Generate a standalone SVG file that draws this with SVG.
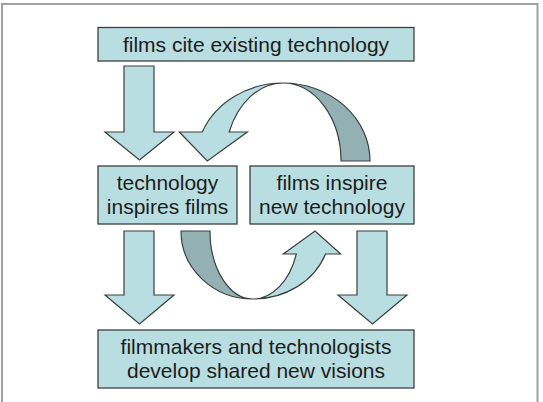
<svg xmlns="http://www.w3.org/2000/svg" width="543" height="402" viewBox="0 0 543 402">
<style>
.box{fill:#b9dee1;stroke:#3c3f3f;stroke-width:1.3}
.arr{fill:#b9dee1;stroke:#3c3f3f;stroke-width:1.2;stroke-linejoin:miter}
.back{fill:#93b1b2;stroke:#3c3f3f;stroke-width:1.2}
.t{font-family:"Liberation Sans",Arial,sans-serif;font-size:21px;fill:#1c1c1c;text-anchor:middle}
</style>
<rect x="0" y="0" width="543" height="402" fill="#ffffff"/>
<rect x="2" y="4" width="535.5" height="420" fill="none" stroke="#a0a0a0" stroke-width="2"/>
<g id="connectors">
<polygon class="arr" points="124,66 154,66 154,132 174,132 139.5,160 105,132 124,132"/>
<polygon class="arr" points="124,231 154,231 154,295 174,295 139.5,324 105,295 124,295"/>
<polygon class="arr" points="357,231 387,231 387,295 407,295 372.5,324 338,295 357,295"/>
<path class="back" d="M283,83 A87 78 0 0 1 370,161 L341,161 A58 78 0 0 0 283,83 Z"/>
<path class="arr" d="M283,83 A87 78 0 0 0 202.2,132 L179.3,132 L207.3,161 L247.3,132 L229.2,132 A58 78 0 0 1 283,83 Z"/>
<path class="back" d="M181,231 L210,231 A43 68 0 0 0 253,299 A72 68 0 0 1 181,231 Z"/>
<path class="arr" d="M253,299 A77 68 0 0 0 325.5,254 L340.7,254 L315,231 L283.3,254 L296.3,254 A46 68 0 0 1 253,299 Z"/>
</g>
<g id="node-cite">
<rect class="box" x="98" y="27.5" width="316" height="33.5"/>
<text class="t" x="256" y="52">films cite existing technology</text>
</g>
<g id="node-tech-inspires">
<rect class="box" x="98" y="166" width="139" height="58"/>
<text class="t" x="167.5" y="189.5">technology</text>
<text class="t" x="167.5" y="214">inspires films</text>
</g>
<g id="node-films-inspire">
<rect class="box" x="250" y="166" width="164" height="58"/>
<text class="t" x="332" y="189.5">films inspire</text>
<text class="t" x="332" y="214">new technology</text>
</g>
<g id="node-shared">
<rect class="box" x="98" y="330" width="316" height="58"/>
<text class="t" x="256" y="353.5">filmmakers and technologists</text>
<text class="t" x="256" y="378">develop shared new visions</text>
</g>
</svg>
